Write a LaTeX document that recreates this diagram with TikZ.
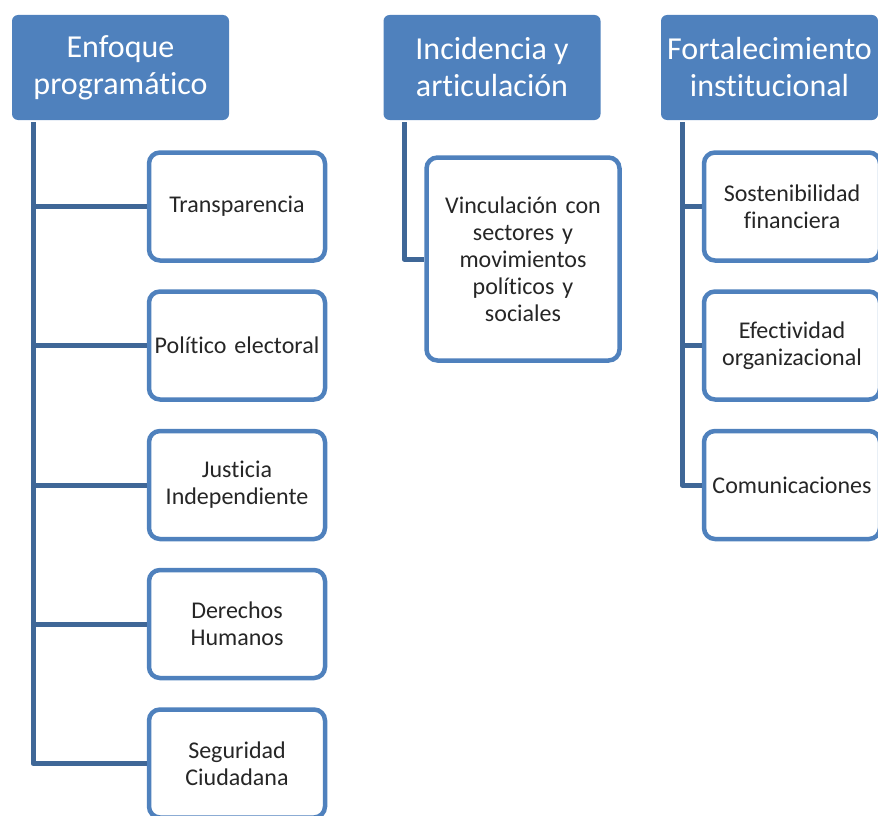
\documentclass[tikz,border=0pt]{standalone}
\usepackage{fontspec}
\setmainfont{Carlito}[Ligatures=CommonOff]
\usepackage{tikz}

\definecolor{headblue}{HTML}{4F81BD}
\definecolor{linkblue}{HTML}{3F6797}
\definecolor{txtgray}{HTML}{262626}

\tikzset{
  head/.style={fill=headblue, text=white, rounded corners=6pt,
               minimum width=217pt, minimum height=105pt, inner sep=0pt,
               align=center, font=\fontsize{32}{37}\selectfont},
  item/.style={draw=headblue, line width=4.5pt, fill=white, rounded corners=11pt,
               minimum width=176pt, minimum height=108pt, inner sep=0pt,
               text width=172pt, align=center, text=txtgray,
               font=\fontsize{24}{27}\selectfont},
  link/.style={draw=linkblue, line width=5pt, line join=round}
}

\begin{document}
\begin{tikzpicture}[x=1pt, y=-1pt]
                \useasboundingbox (0,0) rectangle (878,816);

                % headers
                \node[head] (enf) at (120.5,67.5) {Enfoque\\programático};
                \node[head] (inc) at (492,67.5) {Incidencia y\\articulación};
                \node[head] (frt) at (769.5,67.5) {Fortalecimiento\\institucional};

                \coordinate (enfroot) at (33,122);
                \coordinate (incroot) at (404,122);
                \coordinate (frtroot) at (682,122);

                % left column
                \foreach \n/\y/\t in {tra/206.5/Transparencia,
                                      pol/345.5/Político electoral,
                                      jus/485/Justicia\\Independiente,
                                      der/624/Derechos\\Humanos,
                                      seg/763.5/Seguridad\\Ciudadana}
                  \node[item] (\n) at (237,\y) {\t};
                \foreach \n in {tra,pol,jus,der,seg}
                  \draw[link] (enfroot) |- (\n.west);

                % middle column
                \node[item, minimum width=193pt, minimum height=203pt, text width=185pt]
                      (vin) at (523,259) {Vinculación con\\sectores y\\movimientos\\políticos y\\sociales};
                \draw[link] (incroot) |- (vin.west);

                % right column
                \foreach \n/\y/\t in {sos/206.5/Sostenibilidad\\financiera,
                                      efe/345.5/Efectividad\\organizacional,
                                      com/485/Comunicaciones}
                  \node[item] (\n) at (792,\y) {\t};
                \foreach \n in {sos,efe,com}
                  \draw[link] (frtroot) |- (\n.west);

        \end{tikzpicture}
\end{document}
